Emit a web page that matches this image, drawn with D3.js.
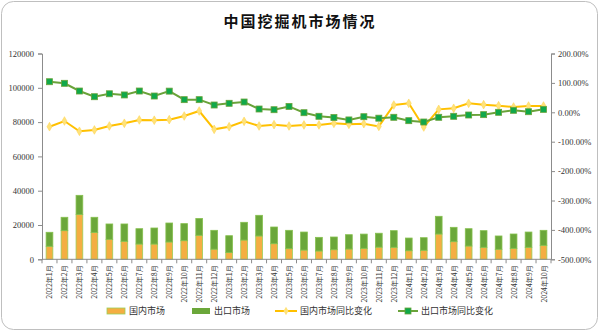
<!DOCTYPE html>
<html><head><meta charset="utf-8">
<script src="https://cdn.jsdelivr.net/npm/d3@7"></script>
<style>
html,body{margin:0;padding:0;background:#fff;}
svg{display:block;}
</style>
</head><body>
<svg id="c" width="600" height="333"></svg>
<script>
const months = [
 "2022年1月","2022年2月","2022年3月","2022年4月","2022年5月","2022年6月","2022年7月","2022年8月","2022年9月","2022年10月","2022年11月","2022年12月",
 "2023年1月","2023年2月","2023年3月","2023年4月","2023年5月","2023年6月","2023年7月","2023年8月","2023年9月","2023年10月","2023年11月","2023年12月",
 "2024年1月","2024年2月","2024年3月","2024年4月","2024年5月","2024年6月","2024年7月","2024年8月","2024年9月","2024年10月"];
const domestic = [7600,16700,26200,15700,11650,10500,8900,8900,10100,10850,14000,5900,
 3900,11250,13600,9100,6200,5400,4850,5600,6000,6400,7100,7000,
 5000,5250,14750,10270,7750,7000,5830,6400,7000,8160];
const total = [15750,24500,37300,24500,20600,20600,17850,18250,21160,20800,23800,16900,
 13760,21570,25650,18830,16900,15900,12800,13000,14350,14700,15200,16700,
 12400,12600,25070,18650,17850,16700,13600,14750,15900,16900];
const exportVals = total.map((t,i)=>t-domestic[i]);
const domesticYoY = [-49,-29.6,-64.6,-60,-46.6,-37.4,-26,-27,-25,-12.6,4.4,-57.9,
 -49,-30.7,-46.6,-42,-46.6,-43,-43,-37.6,-41,-38.7,-48,24.8,
 30.6,-50,10,13.6,30.6,26,22.4,18,21.4,21.4];
const exportYoY = [104,98.6,72.4,53,63,59,72.4,55.4,72,43,43,24.8,
 30.6,35,11.2,8.8,20,-1.4,-13.6,-18,-26,-15,-20,-17,
 -28.5,-33,-17,-13.6,-9.2,-8,0,6.8,2,10];
const leftTicks = [0,20000,40000,60000,80000,100000,120000];
const rightTicks = [200,100,0,-100,-200,-300,-400,-500];

const svg = d3.select("#c");
const W=600,H=333;
const m={l:42,r:49,t:53.5,b:74};
const x0=m.l, x1=W-m.r, yTop=m.t, yBot=259.3;

svg.append("rect").attr("x",1.5).attr("y",1.5).attr("width",596).attr("height",328)
  .attr("rx",12).attr("fill","#fff").attr("stroke","#bfbfbf").attr("stroke-width",1);

svg.append("text").attr("x",300).attr("y",27).attr("text-anchor","middle")
  .attr("font-family","'Noto Sans CJK SC','Noto Sans',sans-serif").attr("font-weight","bold")
  .attr("font-size",15).attr("fill","#111").attr("letter-spacing",2).text("中国挖掘机市场情况");

const x = d3.scaleBand().domain(months).range([x0,x1]).paddingInner(0.55).paddingOuter(0.275);
const xc = d => x(d)+x.bandwidth()/2;
const yL = d3.scaleLinear().domain([0,120000]).range([yBot,yTop]);
const yR = d3.scaleLinear().domain([-500,200]).range([yBot,yTop]);

const serif = "'Liberation Serif','DejaVu Serif',serif";
const axisColor = "#8c8c8c";

// left axis
const gL = svg.append("g").attr("transform",`translate(${x0},0)`)
  .call(d3.axisLeft(yL).tickValues(leftTicks).tickSize(4).tickPadding(4).tickFormat(d=>d));
gL.selectAll("path,line").attr("stroke",axisColor);
gL.selectAll("text").attr("font-family",serif).attr("font-size",8.5).attr("fill","#333");

// right axis
const gR = svg.append("g").attr("transform",`translate(${x1},0)`)
  .call(d3.axisRight(yR).tickValues(rightTicks).tickSize(4).tickPadding(3).tickFormat(d=>d.toFixed(2)+"%"));
gR.selectAll("path,line").attr("stroke",axisColor);
gR.selectAll("text").attr("font-family",serif).attr("font-size",8.5).attr("fill","#333");

// bars
const bars = svg.append("g");
bars.selectAll("rect.d").data(months).join("rect").attr("class","d")
  .attr("x",d=>x(d)).attr("width",x.bandwidth())
  .attr("y",(d,i)=>yL(domestic[i])).attr("height",(d,i)=>yBot-yL(domestic[i]))
  .attr("fill","#F4AE42").attr("stroke","#9ccf5a").attr("stroke-width",0.8);
bars.selectAll("rect.e").data(months).join("rect").attr("class","e")
  .attr("x",d=>x(d)).attr("width",x.bandwidth())
  .attr("y",(d,i)=>yL(domestic[i]+exportVals[i])).attr("height",(d,i)=>yL(domestic[i])-yL(domestic[i]+exportVals[i]))
  .attr("fill","#6BA73A").attr("stroke","#86c04e").attr("stroke-width",0.8);

// bottom axis
const gB = svg.append("g").attr("transform",`translate(0,${yBot})`);
gB.append("line").attr("x1",x0).attr("x2",x1).attr("stroke",axisColor);
const step = x.step();
gB.selectAll("line.t").data(d3.range(months.length+1)).join("line").attr("class","t")
  .attr("x1",i=>x0+i*step).attr("x2",i=>x0+i*step).attr("y1",0).attr("y2",4).attr("stroke",axisColor);
gB.selectAll("text").data(months).join("text")
  .attr("transform",d=>`translate(${xc(d)+3},6) rotate(-90)`)
  .attr("text-anchor","end")
  .attr("font-family","'Noto Sans CJK SC',sans-serif").attr("font-size",7).attr("fill","#333")
  .text(d=>d);

// lines
const lineY = d3.line().x((d,i)=>xc(months[i])).y(d=>yR(d));
svg.append("path").datum(domesticYoY).attr("d",lineY).attr("fill","none")
  .attr("stroke","#FFC000").attr("stroke-width",2);
svg.append("g").selectAll("path").data(domesticYoY).join("path")
  .attr("transform",(d,i)=>`translate(${xc(months[i])},${yR(d)})`)
  .attr("d",d3.symbol(d3.symbolDiamond,22)).attr("fill","#FFE27A").attr("stroke","#FFD34D").attr("stroke-width",0.5);

svg.append("path").datum(exportYoY).attr("d",lineY).attr("fill","none")
  .attr("stroke","#6AA33A").attr("stroke-width",2);
svg.append("g").selectAll("rect").data(exportYoY).join("rect")
  .attr("x",(d,i)=>xc(months[i])-3).attr("y",d=>yR(d)-3).attr("width",6).attr("height",6)
  .attr("fill","#10A84A").attr("stroke","#6AA33A").attr("stroke-width",0.8);

// legend
const lg = svg.append("g").attr("font-family","'Noto Sans CJK SC',sans-serif").attr("font-size",9).attr("fill","#333");
const ly = 311;
lg.append("rect").attr("x",107).attr("y",ly-3).attr("width",18).attr("height",6).attr("fill","#F4AE42").attr("stroke","#9ccf5a").attr("stroke-width",0.8);
lg.append("text").attr("x",129).attr("y",ly+3).text("国内市场");
lg.append("rect").attr("x",192).attr("y",ly-3).attr("width",18).attr("height",6).attr("fill","#6BA73A");
lg.append("text").attr("x",214).attr("y",ly+3).text("出口市场");
lg.append("line").attr("x1",275).attr("x2",297).attr("y1",ly).attr("y2",ly).attr("stroke","#FFC000").attr("stroke-width",2);
lg.append("path").attr("transform",`translate(286,${ly})`).attr("d",d3.symbol(d3.symbolDiamond,22)).attr("fill","#FFE27A");
lg.append("text").attr("x",300).attr("y",ly+3).text("国内市场同比变化");
lg.append("line").attr("x1",398).attr("x2",418).attr("y1",ly).attr("y2",ly).attr("stroke","#6AA33A").attr("stroke-width",2);
lg.append("rect").attr("x",405).attr("y",ly-3).attr("width",6).attr("height",6).attr("fill","#10A84A").attr("stroke","#6AA33A").attr("stroke-width",0.8);
lg.append("text").attr("x",421).attr("y",ly+3).text("出口市场同比变化");
</script>
</body></html>
